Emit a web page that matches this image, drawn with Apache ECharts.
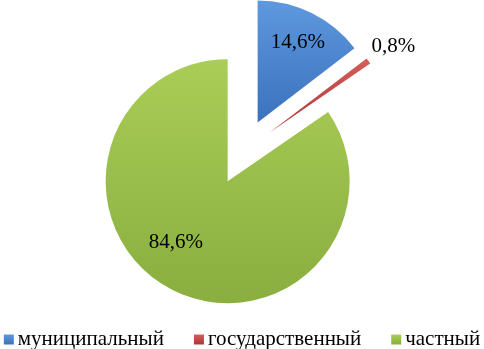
<!DOCTYPE html>
<html><head><meta charset="utf-8">
<script src="https://cdn.jsdelivr.net/npm/echarts@6/dist/echarts.min.js"></script>
<style>html,body{margin:0;padding:0;background:#fff}#c{width:484px;height:349px}</style>
</head><body><div id="c"></div>
<script>
const categories = ['муниципальный', 'государственный', 'частный'];
const values = [14.6, 0.8, 84.6];
const labels = ['14,6%', '0,8%', '84,6%'];

const colorsTop = ['#5e98de', '#d65c58', '#a9cd56'];
const colorsBot = ['#3a72bd', '#a9393a', '#8aae3f'];
const labelOffsets = [[12, -23], [72, -49], [-22, 5]];
const FONT = "'Liberation Serif', 'Times New Roman', serif";

const chart = echarts.init(document.getElementById('c'));
chart.setOption({
  animation: false,
  legend: {
    bottom: -1,
    left: 'center',
    padding: 0,
    icon: 'rect',
    itemWidth: 10,
    itemHeight: 10,
    itemGap: 30,
    selectedMode: false,
    textStyle: { fontFamily: FONT, fontSize: 21, color: '#000', padding: [0, 0, 0, -1] },
    data: categories
  },
  series: [{
    type: 'pie',
    center: [243, 152],
    radius: 122,
    startAngle: 90,
    clockwise: true,
    selectedMode: 'multiple',
    selectedOffset: 33,
    avoidLabelOverlap: false,
    emphasis: { disabled: true },
    label: {
      show: true,
      position: 'inside',
      fontFamily: FONT,
      fontSize: 21,
      color: '#000',
      formatter: p => labels[p.dataIndex]
    },
    labelLayout: p => ({ dx: labelOffsets[p.dataIndex][0], dy: labelOffsets[p.dataIndex][1] }),
    labelLine: { show: false },
    data: categories.map((name, i) => ({
      name: name,
      value: values[i],
      selected: true,
      itemStyle: {
        color: new echarts.graphic.LinearGradient(0, 0, 0, 1, [
          { offset: 0, color: colorsTop[i] },
          { offset: 1, color: colorsBot[i] }
        ])
      }
    }))
  }]
});
</script></body></html>
